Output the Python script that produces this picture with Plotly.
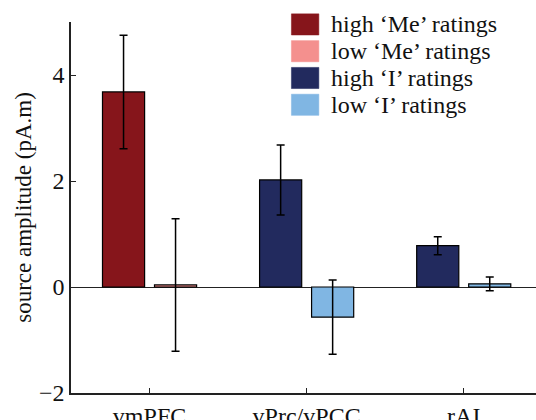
import plotly.graph_objects as go

# ---- data ----
regions = ["vmPFC", "vPrc/vPCC", "rAI"]
series_names = ["high \u2018Me\u2019 ratings", "low \u2018Me\u2019 ratings",
                "high \u2018I\u2019 ratings", "low \u2018I\u2019 ratings"]
me_regions = ["vmPFC"]
i_regions = ["vPrc/vPCC", "rAI"]
high_me = [3.68]
high_me_err = [1.07]
low_me = [0.04]
low_me_err = [1.25]
high_i = [2.02, 0.78]
high_i_err = [0.66, 0.17]
low_i = [-0.57, 0.06]
low_i_err = [0.70, 0.13]
y_ticks = [-2, 0, 2, 4]

colors = ["#86151b", "#f4908e", "#222a5e", "#80b6e3"]
FONT = "Liberation Serif, Times New Roman, serif"

fig = go.Figure()
traces = [
    (me_regions, high_me, high_me_err, "high"),
    (me_regions, low_me, low_me_err, "low"),
    (i_regions, high_i, high_i_err, "high"),
    (i_regions, low_i, low_i_err, "low"),
]
for (xs, ys, es, grp), name, col in zip(traces, series_names, colors):
    fig.add_trace(go.Bar(
        x=xs, y=ys, name=name, offsetgroup=grp,
        marker=dict(color=col, line=dict(color="black", width=1.2)),
        error_y=dict(type="data", array=es, visible=True, color="black",
                     thickness=1.5, width=4),
        showlegend=False,
    ))

# manual legend (large swatches like the reference)
leg_x0, leg_y0, pitch = 0.474, 1.022, 0.0722
sw_w, sw_h = 0.059, 0.057
for k, (name, col) in enumerate(zip(series_names, colors)):
    top = leg_y0 - k * pitch
    fig.add_shape(type="rect", xref="paper", yref="paper",
                  x0=leg_x0, x1=leg_x0 + sw_w, y0=top - sw_h, y1=top,
                  fillcolor=col, line=dict(color=col, width=0.5), layer="above")
    fig.add_annotation(xref="paper", yref="paper", x=leg_x0 + sw_w + 0.021,
                       y=top - sw_h / 2, text=name, showarrow=False,
                       xanchor="left", yanchor="middle",
                       font=dict(family=FONT, size=24, color="#111"))

fig.update_layout(
    width=536, height=420,
    margin=dict(l=71, r=0, t=22, b=27),
    paper_bgcolor="white", plot_bgcolor="white",
    barmode="group", bargap=0.338, bargroupgap=0.19,
    font=dict(family=FONT, size=24, color="#111"),
    showlegend=False,
)
fig.update_xaxes(
    categoryorder="array", categoryarray=regions,
    range=[-0.5, 2.46], automargin=False,
    showline=True, linecolor="#222", linewidth=1.5,
    ticks="inside", ticklen=5, tickcolor="#222", tickwidth=1,
    showgrid=False, zeroline=False,
    tickfont=dict(family=FONT, size=24),
)
fig.update_yaxes(
    range=[-2, 5], tickvals=y_ticks, automargin=False,
    showline=True, linecolor="#222", linewidth=1.5,
    ticks="inside", ticklen=5, tickcolor="#222", tickwidth=1,
    showgrid=False,
    zeroline=True, zerolinecolor="#222", zerolinewidth=1.2,
    title=dict(text="source amplitude (pA.m)", standoff=1,
               font=dict(family=FONT, size=23)),
    tickfont=dict(family=FONT, size=24),
)

fig.write_html("out.html", config={"displayModeBar": False},
               post_script="document.body.style.margin='0';")
